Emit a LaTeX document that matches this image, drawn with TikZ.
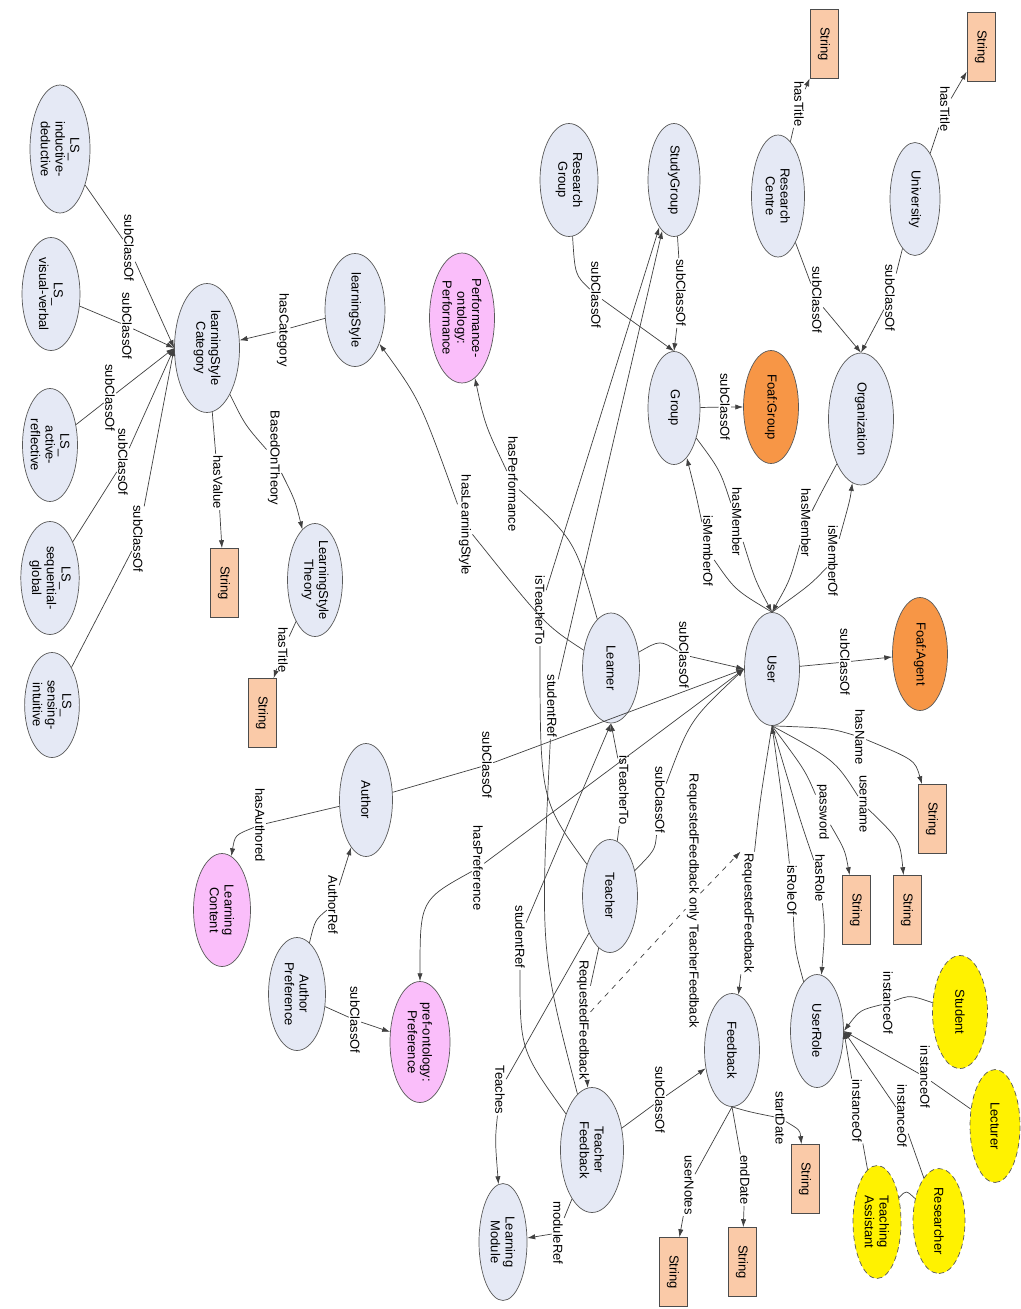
\documentclass[tikz,border=0pt]{standalone}
\usepackage{fontspec}
\setmainfont{Liberation Sans}
\usetikzlibrary{shapes.geometric,arrows.meta}
\definecolor{clsfill}{RGB}{229,233,245}
\definecolor{litfill}{RGB}{250,202,168}
\definecolor{foaffill}{RGB}{247,150,70}
\definecolor{ontfill}{RGB}{250,190,250}
\tikzstyle{cls} = [ellipse, draw=black!65, fill=clsfill, rotate=-90, minimum width=2.26cm, minimum height=1.1cm, inner sep=0pt, align=center]
\tikzstyle{ext} = [cls, fill=foaffill]
\tikzstyle{ont} = [cls, fill=ontfill]
\tikzstyle{inst} = [cls, fill=yellow, dash pattern=on 3pt off 2pt]
\tikzstyle{lit} = [rectangle, draw=black!70, fill=litfill, rotate=-90, minimum width=1.38cm, minimum height=0.56cm, inner sep=0pt]
\tikzstyle{lbl} = [rotate=-90, fill=white, inner sep=0.6pt]
\tikzstyle{rel} = [->, draw=black!75]

\begin{document}
\begin{tikzpicture}[x=0.02cm, y=-0.02cm, >={Latex[length=4.5pt,width=3pt]},
  every node/.style={font=\fontsize{7.4}{8.4}\selectfont}]
  \useasboundingbox (0,0) rectangle (1021,1309);
  % classes
  \node (indded) at (60,149) [cls, minimum width=2.56cm, minimum height=1.2cm] {LS\_\\inductive-\\deductive};
  \node (visver) at (51,294) [cls, minimum height=1.16cm] {LS\_\\visual-verbal};
  \node (actref) at (50,445) [cls] {LS\_\\active-\\reflective};
  \node (seqglob) at (50,578) [cls] {LS\_\\sequential-\\global};
  \node (sensint) at (52,705) [cls, minimum width=2.1cm, minimum height=1.04cm] {LS\_\\sensing-\\intuitive};
  \node (lsc) at (207,348) [cls, minimum width=2.58cm, minimum height=1.3cm] {learningStyle\\Category};
  \node (ls) at (355,310) [cls, minimum height=1.2cm] {learningStyle};
  \node (lst) at (315,580) [cls] {LearningStyle\\Theory};
  \node (perf) at (462,318) [ont, minimum width=2.6cm, minimum height=1.3cm] {Performance-\\ontology:\\Performance};
  \node (resgrp) at (569,180) [cls, minimum height=1.16cm] {Research\\Group};
  \node (studygrp) at (674,180) [cls, minimum height=1.04cm] {StudyGroup};
  \node (rescen) at (778,196) [cls, minimum width=2.44cm, minimum height=1.06cm] {Research\\Centre};
  \node (univ) at (915,199) [cls, minimum height=1.0cm] {University};
  \node (group) at (674,408) [cls, minimum height=1.04cm] {Group};
  \node (foafgrp) at (771,407) [ext] {Foaf:Group};
  \node (org) at (861,419) [cls, minimum width=2.64cm, minimum height=1.3cm] {Organization};
  \node (user) at (772,669) [cls] {User};
  \node (foafagent) at (920,654) [ext] {Foaf:Agent};
  \node (learner) at (611,668) [cls, minimum width=2.2cm, minimum height=1.14cm] {Learner};
  \node (teacher) at (610,896) [cls] {Teacher};
  \node (author) at (366,800) [cls, minimum height=1.06cm] {Author};
  \node (lcontent) at (222,910) [ont, minimum height=1.14cm] {Learning\\Content};
  \node (authpref) at (297,994) [cls, minimum height=1.14cm] {Author\\Preference};
  \node (prefont) at (420,1042) [ont, minimum width=2.42cm, minimum height=1.2cm] {pref-ontology:\\Preference};
  \node (lmodule) at (503,1242) [cls, minimum width=2.34cm, minimum height=0.96cm] {Learning\\Module};
  \node (tfeed) at (592,1150) [cls, minimum width=2.5cm, minimum height=1.26cm] {Teacher\\Feedback};
  \node (feedback) at (732,1050) [cls] {Feedback};
  \node (userrole) at (817,1031) [cls, minimum height=1.06cm] {UserRole};
  \node (student) at (960,1012) [inst] {Student};
  \node (lecturer) at (995,1126) [inst, minimum height=1.0cm] {Lecturer};
  \node (researcher) at (939,1221) [inst, minimum width=2.1cm, minimum height=1.04cm] {Researcher};
  \node (tassist) at (877,1222) [inst, minimum height=0.96cm] {Teaching\\Assistant};
  % literals
  \node (strRC) at (824,44) [lit] {String};
  \node (strUni) at (981,47) [lit] {String};
  \node (strVal) at (224,583) [lit] {String};
  \node (strLST) at (262,713) [lit] {String};
  \node (strName) at (932,819) [lit] {String};
  \node (strUser) at (907,910) [lit] {String};
  \node (strPass) at (856,910) [lit] {String};
  \node (strStart) at (805,1179) [lit] {String};
  \node (strEnd) at (742,1262) [lit] {String};
  \node (strNotes) at (673,1272) [lit] {String};
  % edge labels
  \node (lIndSub) at (129,248) [lbl] {subClassOf};
  \node (lVisSub) at (127,326) [lbl] {subClassOf};
  \node (lActSub) at (110,398) [lbl] {subClassOf};
  \node (lSeqSub) at (123,462) [lbl] {subClassOf};
  \node (lSenSub) at (138,539) [lbl] {subClassOf};
  \node (lCat) at (283,330) [lbl] {hasCategory};
  \node (lTheory) at (274,458) [lbl] {BasedOnTheory};
  \node (lVal) at (218,482) [lbl] {hasValue};
  \node (lLSTtitle) at (283,650) [lbl] {hasTitle};
  \node (lLS) at (465,525) [lbl] {hasLearningStyle};
  \node (lPerf) at (513,484) [lbl] {hasPerformance};
  \node (lRGsub) at (596,295) [lbl] {subClassOf};
  \node (lSGsub) at (681,293) [lbl] {subClassOf};
  \node (lGrpsub) at (725,407) [lbl] {subClassOf};
  \node (lRC) at (799,104) [lbl] {hasTitle};
  \node (lUni) at (945,109) [lbl] {hasTitle};
  \node (lRCsub) at (817,300) [lbl] {subClassOf};
  \node (lUnisub) at (890,298) [lbl] {subClassOf};
  \node (lOrgIsM) at (833,561) [lbl] {isMemberOf};
  \node (lOrgHasM) at (806,523) [lbl] {hasMember};
  \node (lGrpHasM) at (737,522) [lbl] {hasMember};
  \node (lGrpIsM) at (708,551) [lbl] {isMemberOf};
  \node (lAgent) at (845,662) [lbl] {subClassOf};
  \node (lName) at (860,737) [lbl] {hasName};
  \node (lUname) at (863,804) [lbl] {username};
  \node (lPass) at (823,812) [lbl] {password};
  \node (lRole) at (820,878) [lbl] {hasRole};
  \node (lRoleOf) at (792,890) [lbl] {isRoleOf};
  \node (lReqF) at (748,913) [lbl] {RequestedFeedback};
  \node (lOnly) at (693,901) [lbl] {RequestedFeedback only TeacherFeedback};
  \node (lReqTF) at (583,1020) [lbl] {RequestedFeedback};
  \node (lTFsub) at (660,1100) [lbl] {subClassOf};
  \node (lStart) at (780,1118) [lbl] {startDate};
  \node (lEnd) at (745,1180) [lbl] {endDate};
  \node (lNotes) at (689,1185) [lbl] {userNotes};
  \node (lModRef) at (558,1233) [lbl] {moduleRef};
  \node (lTeaches) at (500,1090) [lbl] {Teaches};
  \node (lStud) at (888,1003) [lbl] {instanceOf};
  \node (lLect) at (925,1077) [lbl] {instanceOf};
  \node (lRes) at (902,1116) [lbl] {instanceOf};
  \node (lTA) at (857,1111) [lbl] {instanceOf};
  \node (lLrnSub) at (684,655) [lbl] {subClassOf};
  \node (lTchSub) at (660,800) [lbl] {subClassOf};
  \node (lAuthSub) at (487,765) [lbl] {subClassOf};
  \node (lPref) at (478,868) [lbl] {hasPreference};
  \node (lAPsub) at (355,1020) [lbl] {subClassOf};
  \node (lAuthRef) at (333,905) [lbl] {AuthorRef};
  \node (lAuthored) at (260,825) [lbl] {hasAuthored};
  \node (lTchLrn) at (624,790) [lbl] {isTeacherTo};
  \node (lTchSG) at (540,610) [lbl] {isTeacherTo};
  \node (lRefLrn) at (520,937) [lbl] {studentRef};
  \node (lRefSG) at (552,706) [lbl] {studentRef};

  % learning style part
  \draw [rel] (indded) -- (lIndSub) -- (lsc.south);
  \draw [rel] (visver) -- (lVisSub) -- (lsc.south);
  \draw [rel] (actref) -- (lActSub) -- (lsc.south);
  \draw [rel] (seqglob) -- (lSeqSub) -- (lsc.south);
  \draw [rel] (sensint) -- (lSenSub) -- (lsc.south);
  \draw [rel] (ls) -- (lCat) -- (lsc);
  \draw [rel] (lsc) .. controls (245,425) .. (lTheory) .. controls (295,500) .. (lst);
  \draw [rel] (lsc) -- (lVal) -- (strVal);
  \draw [rel] (lst) -- (lLSTtitle) -- (strLST);
  \draw [rel] (learner) .. controls (545,625) .. (lLS) .. controls (420,400) .. (ls);
  \draw [rel] (learner) .. controls (575,540) .. (lPerf) .. controls (485,425) .. (perf);
  % groups and organizations
  \draw [rel] (resgrp) .. controls (575,275) .. (lRGsub) -- (group.west);
  \draw [rel] (studygrp) -- (lSGsub) -- (group.west);
  \draw [rel] (group) -- (lGrpsub) -- (foafgrp);
  \draw [rel] (rescen) -- (lRC) -- (strRC);
  \draw [rel] (univ) -- (lUni) -- (strUni);
  \draw [rel] (rescen) -- (lRCsub) -- (org.west);
  \draw [rel] (univ) -- (lUnisub) -- (org.west);
  \draw [rel] (user.west) .. controls (810,585) .. (lOrgIsM) .. controls (850,500) .. (org);
  \draw [rel] (org) .. controls (820,495) .. (lOrgHasM) .. controls (790,580) .. (user.west);
  \draw [rel] (group) .. controls (720,470) .. (lGrpHasM) .. controls (755,580) .. (user.west);
  \draw [rel] (user.west) .. controls (735,590) .. (lGrpIsM) .. controls (695,490) .. (group);
  % user
  \draw [rel] (user) -- (lAgent) -- (foafagent);
  \draw [rel] (user.east) .. controls (830,728) .. (lName) .. controls (915,760) .. (strName);
  \draw [rel] (user.east) .. controls (835,760) .. (lUname) .. controls (900,840) .. (strUser);
  \draw [rel] (user.east) .. controls (805,770) .. (lPass) .. controls (845,850) .. (strPass);
  \draw [rel] (user.east) .. controls (800,820) .. (lRole) .. controls (825,930) .. (userrole);
  \draw [rel] (userrole) .. controls (795,950) .. (lRoleOf) .. controls (785,820) .. (user.east);
  \draw [rel] (user.east) .. controls (760,800) .. (lReqF) -- (feedback);
  \draw [rel, dashed] (lReqTF) -- (lOnly) -- (lReqF.south west);
  \draw [rel] (learner) .. controls (660,640) .. (lLrnSub) -- (user.south);
  \draw [rel] (teacher) .. controls (655,850) .. (lTchSub) .. controls (690,720) .. (user.south);
  \draw [rel] (author) -- (lAuthSub) -- (user.south);
  \draw [rel] (user.south) -- (lPref) .. controls (420,900) .. (prefont);
  % roles
  \draw [rel] (student) .. controls (910,995) .. (lStud) .. controls (860,1010) .. (userrole.north);
  \draw [rel] (lecturer) -- (lLect) -- (userrole.north);
  \draw [rel] (researcher) -- (lRes) -- (userrole.north);
  \draw [rel] (tassist) -- (lTA) -- (userrole.north);
  \draw [draw=black!75] (tassist) .. controls (906,1190) .. (researcher);
  % feedback
  \draw [rel] (tfeed) -- (lTFsub) -- (feedback);
  \draw [rel] (feedback.east) .. controls (750,1112) .. (lStart) .. controls (800,1130) .. (strStart);
  \draw [rel] (feedback.east) -- (lEnd) -- (strEnd);
  \draw [rel] (feedback.east) -- (lNotes) -- (strNotes);
  \draw [rel] (tfeed) -- (lModRef) -- (lmodule);
  \draw [rel] (teacher) -- (lTeaches) .. controls (495,1140) .. (lmodule);
  \draw [rel] (teacher) -- (lReqTF) -- (tfeed);
  % author
  \draw [rel] (authpref) -- (lAPsub) -- (prefont);
  \draw [rel] (authpref) .. controls (315,920) .. (lAuthRef) -- (author);
  \draw [rel] (author) -- (lAuthored) .. controls (235,835) .. (lcontent);
  % teacher, learner, study group
  \draw [rel] (teacher) -- (lTchLrn) -- (learner.east);
  \draw [rel] (teacher) .. controls (540,800) .. (lTchSG) -- (studygrp);
  \draw [rel] (tfeed) .. controls (520,1050) .. (lRefLrn) -- (learner.east);
  \draw [rel] (tfeed) .. controls (540,950) .. (lRefSG) -- (studygrp);
\end{tikzpicture}
\end{document}
